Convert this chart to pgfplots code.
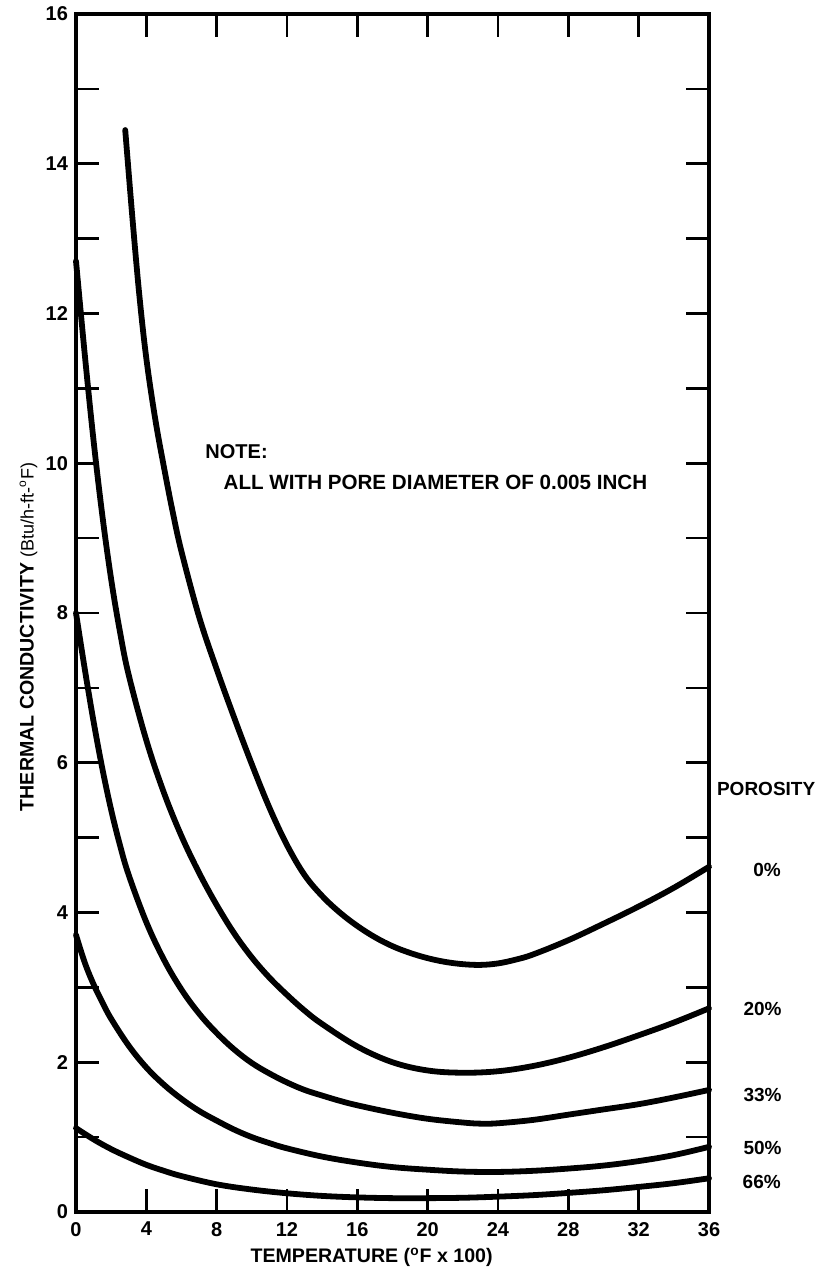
\documentclass[border=0pt]{standalone}
\usepackage{fontspec}
\setmainfont{Liberation Sans}
\usepackage{pgfplots}
\pgfplotsset{compat=1.18}
\begin{document}
\begin{tikzpicture}
\tikzset{curve/.style={black, line width=2.9pt, smooth, tension=0.6, line cap=round, line join=round}}
\begin{axis}[
  scale only axis, width=316.5pt, height=599pt,
  xmin=0, xmax=36, ymin=0, ymax=16,
  xtick={0,4,...,36}, ytick={0,2,...,16}, minor ytick={1,3,...,15},
  tick align=inside, major tick length=11.5pt, minor tick length=11.5pt,
  every tick/.style={line width=1.3pt, black},
  axis line style={line width=1.6pt, line cap=rect},
  ticklabel style={font=\bfseries\fontsize{10}{12}\selectfont},
  /pgf/number format/assume math mode=true,
  xticklabel style={yshift=-1.5pt},
  yticklabel style={xshift=-0.5pt},
  xlabel={TEMPERATURE (\textsuperscript{o}F x 100)},
  ylabel={THERMAL CONDUCTIVITY {\mdseries\fontsize{9}{10}\selectfont(Btu/h-ft-\textsuperscript{o}F)}},
  label style={font=\bfseries\fontsize{9.8}{11}\selectfont},
  xlabel style={at={(axis description cs:0.467,-0.038)}, anchor=center},
  ylabel style={at={(axis description cs:-0.075,0.48)}, anchor=center},
  clip=false,
]
% 0% porosity
\addplot[curve] table {
x y
2.8 14.45
3.2 13.3
3.6 12.25
4.0 11.4
4.5 10.6
5.0 9.95
5.5 9.35
6.0 8.82
7.0 7.95
8.0 7.25
9.0 6.6
10.0 5.98
11.0 5.4
12.0 4.9
13.0 4.5
14.0 4.22
15.0 4.0
16.0 3.82
17.0 3.67
18.0 3.55
19.0 3.46
20.0 3.39
21.0 3.34
22.0 3.31
23.0 3.30
24.0 3.32
25.0 3.37
26.0 3.44
28.0 3.63
30.0 3.85
32.0 4.08
34.0 4.33
36.0 4.61
};
% 20% porosity
\addplot[curve] table {
x y
0.0 12.7
0.5 11.45
1.0 10.3
1.5 9.3
2.0 8.45
2.5 7.75
3.0 7.17
4.0 6.3
5.0 5.6
6.0 5.02
7.0 4.53
8.0 4.1
9.0 3.72
10.0 3.4
11.0 3.13
12.0 2.9
13.0 2.69
14.0 2.51
16.0 2.21
18.0 2.0
20.0 1.89
22.0 1.86
24.0 1.88
26.0 1.95
28.0 2.06
30.0 2.2
32.0 2.36
34.0 2.53
36.0 2.72
};
% 33% porosity
\addplot[curve] table {
x y
0.0 8.0
0.5 7.25
1.0 6.55
1.5 5.92
2.0 5.37
2.5 4.9
3.0 4.5
4.0 3.87
5.0 3.37
6.0 2.97
7.0 2.65
8.0 2.39
9.0 2.17
10.0 1.99
11.0 1.85
12.0 1.73
13.0 1.63
14.0 1.555
15.0 1.485
16.0 1.425
18.0 1.325
20.0 1.245
22.0 1.195
23.0 1.18
24.0 1.185
26.0 1.23
28.0 1.3
30.0 1.37
32.0 1.44
34.0 1.53
36.0 1.63
};
% 50% porosity
\addplot[curve] table {
x y
0.0 3.7
0.5 3.33
1.0 3.04
1.5 2.8
2.0 2.58
3.0 2.22
4.0 1.93
5.0 1.7
6.0 1.51
7.0 1.35
8.0 1.22
9.0 1.1
10.0 1.0
11.0 0.92
12.0 0.85
14.0 0.74
16.0 0.66
18.0 0.6
20.0 0.565
22.0 0.54
24.0 0.535
26.0 0.55
28.0 0.58
30.0 0.62
32.0 0.68
34.0 0.76
36.0 0.87
};
% 66% porosity
\addplot[curve] table {
x y
0.0 1.12
1.0 0.97
2.0 0.84
3.0 0.73
4.0 0.63
5.0 0.55
6.0 0.48
8.0 0.37
10.0 0.3
12.0 0.25
14.0 0.215
16.0 0.195
18.0 0.185
20.0 0.185
22.0 0.19
24.0 0.205
26.0 0.225
28.0 0.255
30.0 0.29
32.0 0.335
34.0 0.385
36.0 0.45
};
\begin{scope}[font=\bfseries\fontsize{9.5}{11}\selectfont]
\node[anchor=west, inner sep=0pt, font=\bfseries\fontsize{10}{12}\selectfont] at (axis cs:7.34,10.15) {NOTE:};
\node[anchor=west, inner sep=0pt, font=\bfseries\fontsize{10.3}{12}\selectfont] at (axis cs:8.38,9.75) {ALL WITH PORE DIAMETER OF 0.005 INCH};
\node at (axis cs:39.25,5.65) {POROSITY};
\node at (axis cs:39.3,4.57) {0\%};
\node at (axis cs:39.05,2.71) {20\%};
\node at (axis cs:39.05,1.56) {33\%};
\node at (axis cs:39.05,0.85) {50\%};
\node at (axis cs:39.0,0.40) {66\%};
\end{scope}
\end{axis}
\path[use as bounding box] ([shift={(-38pt,-34pt)}]current axis.south west) rectangle ([shift={(56.5pt,7pt)}]current axis.north east);
\end{tikzpicture}
\end{document}
